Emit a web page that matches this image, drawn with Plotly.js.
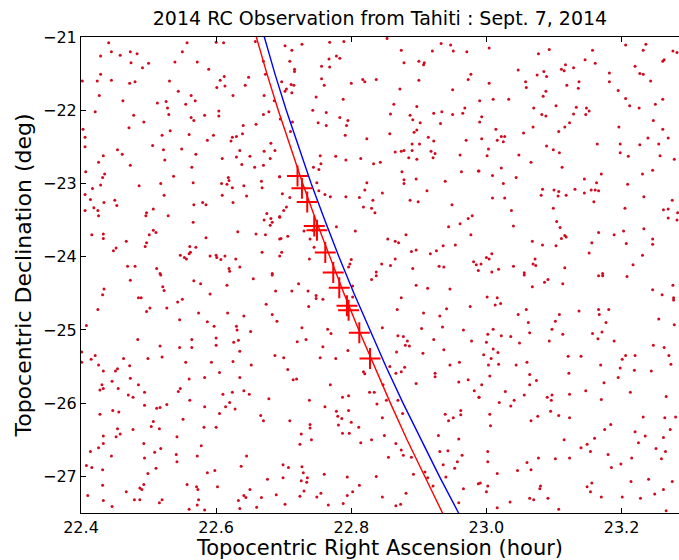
<!DOCTYPE html>
<html>
<head>
<meta charset="utf-8">
<script src="https://cdn.plot.ly/plotly-3.0.1.min.js"></script>
<style>html,body{margin:0;padding:0;background:#fff;}#chart{width:679px;height:560px;}</style>
</head>
<body>
<div id="chart"></div>
<script>
// Background stars [RA (hour), Dec (deg)], read region by region
const starsNW = [[22.441,-21.08],[22.557,-21.08],[22.600,-21.07],[22.611,-21.08],[22.658,-21.06],[22.445,-21.20],[22.473,-21.20],[22.483,-21.23],[22.458,-21.25],[22.429,-21.26],[22.550,-21.20],[22.474,-21.35],[22.500,-21.36],[22.491,-21.42],[22.539,-21.34],[22.572,-21.34],[22.589,-21.44],[22.429,-21.51],[22.402,-21.60],[22.424,-21.60],[22.445,-21.59],[22.472,-21.63],[22.480,-21.61],[22.531,-21.60],[22.606,-21.59],[22.612,-21.54],[22.601,-21.69],[22.613,-21.67],[22.643,-21.66],[22.648,-21.55],[22.673,-21.51],[22.670,-21.33],[22.427,-21.80],[22.462,-21.87],[22.544,-21.74],[22.563,-21.80],[22.555,-21.92],[22.569,-21.87],[22.513,-21.90],[22.526,-21.88],[22.528,-21.97],[22.530,-22.06],[22.625,-21.80],[22.671,-21.80],[22.686,-21.87],[22.421,-22.02],[22.478,-22.07],[22.493,-22.16],[22.471,-22.24],[22.563,-22.10],[22.567,-22.14],[22.583,-22.07],[22.604,-22.01],[22.604,-22.08],[22.640,-22.21],[22.659,-22.19],[22.670,-22.06],[22.678,-22.02],[22.695,-22.12],[22.403,-22.26],[22.406,-22.37],[22.532,-22.28],[22.520,-22.34],[22.560,-22.33],[22.596,-22.34],[22.587,-22.41],[22.624,-22.37],[22.630,-22.36],[22.639,-22.32],[22.622,-22.42],[22.406,-22.50],[22.454,-22.54],[22.506,-22.48],[22.461,-22.60],[22.433,-22.62],[22.426,-22.71],[22.522,-22.54],[22.549,-22.53],[22.570,-22.60],[22.524,-22.68],[22.609,-22.66],[22.630,-22.64],[22.635,-22.55],[22.650,-22.63],[22.671,-22.56],[22.681,-22.45],[22.687,-22.55],[22.680,-22.66],[22.473,-22.75],[22.564,-22.78],[22.638,-22.74],[22.657,-22.78],[22.670,-22.75],[22.407,-22.84],[22.435,-22.87],[22.432,-22.92],[22.429,-23.02],[22.417,-23.07],[22.406,-23.15],[22.486,-23.03],[22.518,-23.00],[22.537,-22.90],[22.566,-22.99],[22.608,-23.00],[22.618,-22.92],[22.619,-22.96],[22.616,-23.01],[22.624,-23.06],[22.641,-23.03],[22.645,-23.17],[22.667,-22.97],[22.668,-23.06],[22.694,-22.91],[22.523,-23.16],[22.609,-23.16],[22.625,-23.26],[22.414,-23.22],[22.434,-23.26],[22.450,-23.23],[22.453,-23.30],[22.406,-23.37],[22.419,-23.33],[22.425,-23.37],[22.426,-23.44],[22.496,-23.44],[22.497,-23.40],[22.507,-23.35],[22.529,-23.44],[22.567,-23.29],[22.580,-23.26],[22.585,-23.29],[22.566,-23.53],[22.675,-23.41],[22.671,-23.50],[22.681,-23.48],[22.683,-23.53],[22.680,-23.57],[22.694,-23.46],[22.416,-23.70],[22.433,-23.69],[22.433,-23.75],[22.501,-23.70],[22.507,-23.64],[22.511,-23.67],[22.585,-23.74],[22.632,-23.66],[22.659,-23.69],[22.673,-23.70],[22.694,-23.76],[22.467,-23.79],[22.452,-23.88],[22.448,-23.92],[22.497,-23.81],[22.495,-23.86],[22.561,-23.86],[22.570,-23.87],[22.562,-23.94],[22.560,-23.96],[22.668,-23.94],[22.547,-23.98],[22.553,-24.01],[22.556,-24.03],[22.591,-23.99],[22.600,-23.98],[22.601,-24.01],[22.607,-24.04],[22.613,-23.99],[22.629,-24.03],[22.694,-23.99],[22.469,-24.13],[22.480,-24.13],[22.512,-24.16],[22.517,-24.23],[22.619,-24.16],[22.620,-24.20],[22.635,-24.14],[22.683,-24.23]];
const starsN = [[22.702,-21.12],[22.712,-21.18],[22.727,-21.10],[22.768,-21.07],[22.789,-21.06],[22.853,-21.02],[22.709,-21.33],[22.716,-21.44],[22.716,-21.47],[22.756,-21.40],[22.767,-21.30],[22.768,-21.41],[22.778,-21.26],[22.783,-21.29],[22.697,-21.61],[22.711,-21.65],[22.715,-21.66],[22.704,-21.71],[22.702,-21.74],[22.712,-21.76],[22.756,-21.57],[22.760,-21.66],[22.748,-21.82],[22.788,-21.85],[22.800,-21.63],[22.817,-21.58],[22.820,-21.61],[22.837,-21.58],[22.874,-21.18],[22.878,-21.35],[22.900,-21.33],[22.908,-21.35],[22.907,-21.38],[22.920,-21.19],[22.933,-21.09],[22.947,-21.11],[22.951,-21.19],[22.971,-21.20],[22.977,-21.51],[22.973,-21.58],[22.900,-21.59],[22.872,-21.71],[22.950,-21.72],[22.743,-22.00],[22.763,-22.03],[22.751,-22.17],[22.763,-22.21],[22.783,-22.10],[22.795,-22.14],[22.793,-22.21],[22.791,-22.34],[22.823,-22.39],[22.858,-22.05],[22.863,-21.92],[22.897,-21.95],[22.887,-22.07],[22.891,-22.13],[22.902,-22.17],[22.922,-22.04],[22.934,-22.02],[22.950,-22.06],[22.965,-22.04],[22.968,-21.97],[22.897,-22.27],[22.893,-22.30],[22.857,-22.32],[22.713,-22.16],[22.710,-22.29],[22.932,-22.18],[22.914,-22.37],[22.922,-22.42],[22.901,-22.46],[22.890,-22.46],[22.874,-22.56],[22.878,-22.55],[22.865,-22.57],[22.890,-22.55],[22.897,-22.67],[22.885,-22.65],[22.918,-22.56],[22.924,-22.59],[22.921,-22.65],[22.961,-22.61],[22.970,-22.41],[22.754,-22.62],[22.755,-22.73],[22.744,-22.78],[22.752,-22.81],[22.777,-22.63],[22.792,-22.68],[22.814,-22.66],[22.833,-22.73],[22.843,-22.71],[22.694,-22.91],[22.749,-22.99],[22.752,-23.10],[22.761,-23.15],[22.769,-23.18],[22.792,-23.18],[22.823,-22.99],[22.820,-23.09],[22.846,-23.13],[22.812,-23.19],[22.832,-23.23],[22.818,-23.32],[22.830,-23.34],[22.835,-23.40],[22.875,-22.84],[22.878,-22.95],[22.878,-23.00],[22.896,-22.94],[22.912,-23.10],[22.887,-23.23],[22.899,-23.25],[22.939,-22.97],[22.949,-23.29],[22.988,-22.83],[22.963,-22.84],[22.698,-23.14],[22.709,-23.19],[22.704,-23.32],[22.700,-23.37],[22.694,-23.45],[22.730,-23.65],[22.743,-23.64],[22.739,-23.76],[22.706,-23.72],[22.696,-23.75],[22.778,-23.59],[22.806,-23.65],[22.854,-23.76],[22.865,-23.79],[22.870,-23.81],[22.881,-23.70],[22.889,-23.93],[22.896,-23.91],[22.917,-23.96],[22.926,-23.92],[22.936,-23.85],[22.954,-23.84],[22.944,-23.59],[22.961,-23.55],[22.973,-23.48],[22.979,-23.44],[22.977,-23.70],[22.985,-24.11],[22.697,-23.94],[22.745,-23.87],[22.738,-24.03],[22.800,-24.04],[22.798,-24.10],[22.796,-24.14],[22.845,-24.10],[22.865,-24.03],[22.858,-24.12],[22.891,-24.16],[22.930,-24.13],[22.937,-24.14],[22.981,-24.07],[22.988,-24.19],[22.837,-24.21]];
const starsNE = [[23.004,-21.15],[23.077,-21.23],[23.093,-21.17],[23.157,-21.18],[23.146,-21.31],[23.161,-21.36],[23.182,-21.49],[23.182,-21.61],[23.206,-21.11],[23.232,-21.18],[23.236,-21.10],[23.220,-21.40],[23.227,-21.50],[23.232,-21.51],[23.243,-21.60],[23.276,-21.19],[23.282,-21.21],[23.263,-21.31],[23.261,-21.33],[23.047,-21.45],[23.058,-21.61],[23.059,-21.69],[23.075,-21.52],[23.085,-21.47],[23.089,-21.54],[23.117,-21.38],[23.111,-21.44],[23.115,-21.46],[23.129,-21.42],[23.119,-21.66],[23.137,-21.61],[23.136,-21.70],[23.088,-21.74],[23.084,-21.81],[23.004,-21.63],[22.990,-21.87],[23.010,-21.85],[23.033,-21.85],[23.195,-21.73],[23.206,-21.84],[23.212,-21.94],[23.226,-21.97],[23.250,-21.92],[23.261,-21.85],[23.070,-21.97],[23.082,-22.06],[23.088,-22.08],[23.103,-21.94],[23.133,-21.96],[23.129,-22.05],[23.148,-21.97],[23.152,-22.01],[23.147,-22.06],[23.123,-22.17],[23.116,-22.23],[23.107,-22.29],[23.069,-22.23],[23.055,-22.31],[22.993,-22.09],[22.990,-22.16],[23.014,-22.26],[23.016,-22.41],[23.022,-22.36],[23.027,-22.36],[23.025,-22.43],[22.993,-22.39],[23.003,-22.53],[23.001,-22.62],[23.196,-22.23],[23.247,-22.14],[23.261,-22.26],[23.239,-22.38],[23.269,-22.38],[23.089,-22.49],[23.099,-22.54],[23.108,-22.58],[23.164,-22.46],[23.198,-22.46],[23.198,-22.58],[23.210,-22.63],[23.227,-22.47],[23.255,-22.46],[23.257,-22.62],[23.278,-22.67],[23.048,-22.61],[23.066,-22.71],[23.112,-22.78],[22.989,-22.83],[23.009,-22.89],[23.022,-22.79],[23.044,-22.92],[23.025,-23.00],[23.145,-22.94],[23.170,-22.87],[23.163,-22.99],[23.209,-23.01],[23.231,-22.87],[23.246,-22.82],[23.083,-23.08],[23.081,-23.16],[23.100,-23.09],[23.107,-23.11],[23.106,-23.17],[23.118,-23.16],[23.131,-23.08],[23.145,-23.13],[23.155,-23.09],[23.161,-23.09],[23.166,-23.10],[23.159,-23.25],[23.233,-23.18],[23.009,-23.20],[23.027,-23.20],[23.037,-23.37],[23.099,-23.34],[23.104,-23.52],[23.109,-23.60],[23.040,-23.58],[23.205,-23.34],[23.275,-23.23],[23.262,-23.36],[23.269,-23.35],[23.283,-23.40],[23.269,-23.47],[23.282,-23.50],[23.068,-23.79],[23.083,-23.84],[23.103,-23.85],[23.111,-23.75],[23.116,-23.71],[23.118,-23.73],[23.156,-23.81],[23.166,-23.67],[23.189,-23.70],[23.203,-23.65],[23.207,-23.82],[23.233,-23.62],[23.246,-23.76],[23.246,-23.83],[22.992,-24.10],[23.000,-24.01],[23.004,-24.03],[23.008,-23.96],[23.008,-24.21],[23.018,-24.17],[23.040,-24.13],[23.056,-24.22],[23.069,-24.10],[23.072,-24.03],[23.073,-24.12],[23.116,-24.15],[23.152,-23.95],[23.217,-24.11],[23.231,-23.98],[23.172,-24.23]];
const starsSW = [[22.473,-24.32],[22.518,-24.25],[22.567,-24.33],[22.577,-24.37],[22.616,-24.39],[22.655,-24.30],[22.683,-24.25],[22.434,-24.44],[22.432,-24.52],[22.521,-24.41],[22.523,-24.46],[22.485,-24.56],[22.489,-24.56],[22.591,-24.51],[22.688,-24.47],[22.425,-24.72],[22.502,-24.70],[22.497,-24.75],[22.527,-24.70],[22.543,-24.62],[22.550,-24.58],[22.574,-24.77],[22.617,-24.77],[22.641,-24.81],[22.674,-24.65],[22.683,-24.79],[22.690,-24.88],[22.408,-24.94],[22.546,-24.86],[22.587,-24.89],[22.597,-24.95],[22.630,-24.95],[22.631,-25.00],[22.651,-25.02],[22.484,-25.13],[22.517,-25.22],[22.546,-25.24],[22.564,-25.13],[22.564,-25.24],[22.600,-25.11],[22.600,-25.21],[22.626,-25.17],[22.633,-25.14],[22.635,-25.29],[22.401,-25.30],[22.401,-25.44],[22.415,-25.40],[22.421,-25.35],[22.426,-25.48],[22.433,-25.56],[22.451,-25.56],[22.454,-25.53],[22.463,-25.39],[22.472,-25.49],[22.499,-25.39],[22.520,-25.37],[22.555,-25.44],[22.593,-25.44],[22.625,-25.43],[22.652,-25.48],[22.687,-25.35],[22.446,-25.70],[22.431,-25.75],[22.428,-25.82],[22.433,-25.80],[22.455,-25.80],[22.473,-25.66],[22.485,-25.75],[22.494,-25.85],[22.470,-25.89],[22.477,-25.92],[22.544,-25.84],[22.547,-25.80],[22.560,-25.67],[22.561,-25.96],[22.583,-25.65],[22.605,-25.58],[22.635,-25.65],[22.610,-25.88],[22.624,-25.85],[22.641,-25.83],[22.649,-25.88],[22.678,-25.94],[22.494,-26.03],[22.512,-26.07],[22.517,-26.06],[22.527,-26.02],[22.583,-26.05],[22.614,-26.05],[22.620,-25.99],[22.628,-26.08],[22.605,-26.14],[22.428,-26.15],[22.447,-26.10],[22.456,-26.12],[22.551,-26.22],[22.507,-26.25],[22.504,-26.32],[22.516,-26.35],[22.477,-26.36],[22.454,-26.35],[22.458,-26.42],[22.452,-26.46],[22.433,-26.45],[22.433,-26.55],[22.666,-26.17],[22.670,-26.24],[22.582,-26.33],[22.600,-26.33],[22.493,-26.55],[22.518,-26.62],[22.509,-26.67],[22.542,-26.46],[22.578,-26.58],[22.572,-26.72],[22.541,-26.70],[22.542,-26.80],[22.494,-26.75],[22.445,-26.72],[22.426,-26.61],[22.414,-26.66],[22.408,-26.85],[22.416,-26.88],[22.432,-26.91],[22.511,-26.89],[22.499,-26.96],[22.587,-26.95],[22.598,-26.92],[22.637,-26.86],[22.645,-26.72],[22.676,-27.04],[22.432,-27.12],[22.493,-27.11],[22.487,-27.16],[22.490,-27.18],[22.467,-27.21],[22.479,-27.32],[22.487,-27.32],[22.516,-27.36],[22.520,-27.32],[22.557,-27.11],[22.571,-27.14],[22.573,-27.18],[22.602,-27.14],[22.574,-27.32],[22.572,-27.39],[22.560,-27.45],[22.583,-27.46],[22.410,-27.26],[22.433,-27.33],[22.446,-27.41],[22.633,-27.33],[22.641,-27.26],[22.644,-27.29],[22.650,-27.18],[22.667,-27.29],[22.689,-27.25],[22.660,-27.42],[22.635,-27.44]];
const starsS = [[22.830,-24.31],[22.837,-24.26],[22.722,-24.37],[22.712,-24.47],[22.736,-24.47],[22.748,-24.53],[22.748,-24.57],[22.758,-24.58],[22.737,-24.68],[22.802,-24.40],[22.802,-24.55],[22.896,-24.39],[22.913,-24.43],[22.946,-24.44],[22.874,-24.56],[22.868,-24.72],[22.907,-24.77],[22.931,-24.81],[22.941,-24.71],[22.976,-24.68],[22.846,-24.97],[22.727,-24.97],[22.765,-24.99],[22.770,-25.05],[22.720,-25.16],[22.733,-25.13],[22.758,-25.23],[22.700,-25.38],[22.754,-25.38],[22.777,-25.39],[22.795,-25.28],[22.818,-25.57],[22.820,-25.60],[22.869,-25.08],[22.877,-25.09],[22.883,-25.15],[22.880,-25.21],[22.886,-25.22],[22.867,-25.30],[22.922,-25.13],[22.937,-25.27],[22.906,-25.32],[22.978,-25.15],[22.966,-25.00],[22.935,-24.96],[22.904,-24.98],[22.706,-25.54],[22.714,-25.68],[22.719,-25.67],[22.769,-25.75],[22.738,-25.96],[22.761,-26.05],[22.778,-26.11],[22.780,-26.18],[22.787,-25.92],[22.796,-25.90],[22.796,-26.10],[22.800,-26.26],[22.811,-26.33],[22.827,-25.85],[22.834,-25.85],[22.838,-26.01],[22.852,-25.96],[22.847,-25.75],[22.846,-26.20],[22.857,-25.50],[22.866,-25.59],[22.874,-25.57],[22.879,-25.51],[22.896,-25.73],[22.924,-25.59],[22.924,-25.64],[22.946,-25.48],[22.960,-25.44],[22.959,-25.71],[22.973,-25.68],[22.982,-25.83],[22.989,-25.92],[22.869,-25.96],[22.876,-26.14],[22.709,-26.24],[22.739,-26.29],[22.739,-26.34],[22.726,-26.42],[22.741,-26.50],[22.724,-26.56],[22.786,-26.21],[22.781,-26.30],[22.787,-26.41],[22.797,-26.41],[22.814,-26.54],[22.849,-26.44],[22.866,-26.55],[22.874,-26.64],[22.877,-26.71],[22.855,-26.74],[22.830,-26.50],[22.889,-26.74],[22.939,-26.15],[22.944,-26.24],[22.951,-26.20],[22.962,-26.10],[22.962,-26.16],[22.929,-26.44],[22.959,-26.49],[22.931,-26.66],[22.943,-26.65],[22.957,-26.80],[22.964,-26.71],[22.936,-26.84],[22.953,-26.89],[22.699,-26.84],[22.707,-26.88],[22.727,-26.87],[22.729,-26.95],[22.735,-27.02],[22.734,-27.08],[22.726,-27.06],[22.699,-27.02],[22.730,-27.20],[22.724,-27.27],[22.702,-27.38],[22.760,-26.97],[22.755,-27.23],[22.749,-27.28],[22.766,-27.39],[22.788,-27.37],[22.794,-27.01],[22.802,-27.21],[22.794,-27.26],[22.812,-27.12],[22.837,-27.00],[22.846,-27.28],[22.873,-27.38],[22.866,-27.40],[22.881,-27.23],[22.892,-26.97],[22.909,-26.94],[22.913,-27.02],[22.921,-27.13],[22.940,-27.01],[22.959,-27.36],[22.966,-27.17],[22.988,-27.10]];
const starsSE = [[23.056,-24.25],[23.166,-24.26],[23.172,-24.26],[23.208,-24.27],[23.091,-24.31],[23.086,-24.35],[23.113,-24.37],[23.068,-24.41],[23.001,-24.55],[23.016,-24.56],[23.013,-24.66],[23.021,-24.64],[23.246,-24.45],[23.260,-24.52],[23.276,-24.39],[23.277,-24.56],[23.277,-24.59],[23.047,-24.79],[23.059,-24.72],[23.062,-24.90],[23.108,-24.79],[23.102,-24.88],[23.137,-24.74],[23.166,-24.72],[23.181,-24.72],[23.167,-24.79],[23.177,-24.90],[23.255,-24.85],[23.278,-24.93],[23.002,-25.06],[23.010,-24.99],[23.022,-25.08],[23.036,-25.09],[23.064,-25.04],[23.049,-25.18],[23.093,-25.15],[23.097,-24.99],[23.113,-25.06],[23.157,-25.05],[23.171,-25.03],[23.165,-25.12],[23.189,-25.15],[23.000,-25.17],[22.996,-25.34],[23.007,-25.39],[23.017,-25.31],[23.010,-25.26],[23.003,-25.48],[23.018,-25.47],[23.044,-25.48],[23.060,-25.44],[23.121,-25.36],[23.140,-25.36],[23.206,-25.35],[23.220,-25.35],[23.201,-25.40],[23.198,-25.52],[23.219,-25.55],[23.169,-25.48],[23.244,-25.56],[23.247,-25.21],[23.263,-25.24],[23.270,-25.35],[23.273,-25.47],[23.005,-25.63],[22.993,-25.75],[22.989,-25.92],[23.028,-25.84],[23.064,-25.61],[23.074,-25.69],[23.064,-25.75],[23.056,-25.89],[23.019,-25.99],[23.041,-25.96],[23.036,-26.04],[23.090,-25.92],[23.097,-25.89],[23.096,-25.96],[23.122,-25.59],[23.123,-25.88],[23.147,-25.83],[23.174,-25.72],[23.195,-25.65],[23.213,-25.85],[23.266,-25.91],[23.170,-25.95],[23.005,-26.15],[23.006,-26.31],[23.066,-26.24],[23.076,-26.18],[23.095,-26.11],[23.107,-26.17],[23.123,-26.20],[23.232,-26.19],[23.264,-26.20],[23.280,-26.19],[23.184,-26.29],[23.175,-26.36],[23.220,-26.39],[23.235,-26.45],[23.272,-26.36],[23.262,-26.47],[23.115,-26.50],[23.160,-26.48],[23.149,-26.56],[23.140,-26.61],[23.154,-26.66],[23.180,-26.70],[23.225,-26.54],[23.251,-26.62],[23.265,-26.66],[23.259,-26.76],[23.215,-26.75],[23.199,-26.83],[23.185,-26.88],[23.002,-26.66],[23.002,-26.80],[23.016,-26.96],[22.991,-27.09],[23.002,-27.13],[23.000,-27.21],[23.060,-26.81],[23.077,-26.75],[23.102,-26.76],[23.123,-26.75],[23.046,-26.92],[23.066,-26.91],[23.080,-27.13],[23.079,-27.17],[23.091,-27.30],[23.064,-27.30],[23.070,-27.32],[23.035,-27.35],[23.016,-27.43],[23.107,-27.45],[23.149,-27.14],[23.156,-27.09],[23.154,-27.21],[23.170,-27.28],[23.201,-27.28],[23.214,-27.07],[23.228,-27.30],[23.240,-27.04],[23.249,-27.24],[23.262,-27.18],[23.275,-27.07],[23.266,-27.47]];

// Observed positions (red crosses)
const obsRA  = [22.7204, 22.7270, 22.7348, 22.7452, 22.7492, 22.7615, 22.7733, 22.7822, 22.7936, 22.7960, 22.8119, 22.8277];
const obsDec = [-22.899, -23.067, -23.254, -23.582, -23.639, -23.944, -24.217, -24.425, -24.671, -24.730, -25.040, -25.389];

// Predicted paths (Dec samples shared by both)
const pathDec = [-20.8, -21.0, -21.5, -22.0, -22.5, -23.0, -23.5, -24.0, -24.5, -25.0, -25.5, -26.0, -26.5, -27.0, -27.5, -27.7];
const redPathRA  = [22.6532, 22.6593, 22.6751, 22.6919, 22.7096, 22.7281, 22.7475, 22.7678, 22.7890, 22.8111, 22.8340, 22.8579, 22.8825, 22.9081, 22.9346, 22.9455];
const bluePathRA = [22.6651, 22.6711, 22.6869, 22.7038, 22.7217, 22.7406, 22.7607, 22.7817, 22.8039, 22.8270, 22.8513, 22.8766, 22.9029, 22.9304, 22.9588, 22.9705];

const xTicks = [22.4, 22.6, 22.8, 23.0, 23.2];
const yTicks = [-21, -22, -23, -24, -25, -26, -27];

const stars = [].concat(starsNW, starsN, starsNE, starsSW, starsS, starsSE);

const traces = [
  {type: 'scatter', mode: 'markers', x: stars.map(p => p[0]), y: stars.map(p => p[1]),
   marker: {size: 3, color: 'rgb(210,10,30)'}, hoverinfo: 'skip'},
  {type: 'scatter', mode: 'lines', x: redPathRA, y: pathDec,
   line: {color: '#ff0000', width: 1.4}},
  {type: 'scatter', mode: 'lines', x: bluePathRA, y: pathDec,
   line: {color: '#0000ff', width: 1.4}},
  {type: 'scatter', mode: 'markers', x: obsRA, y: obsDec,
   marker: {symbol: 'cross-thin', size: 15, color: '#ff0000', line: {color: '#ff0000', width: 2}}}
];

const FONT = 'DejaVu Sans, sans-serif';
const axisFont = {family: FONT, size: 16, color: '#000'};
const layout = {
  width: 679, height: 560,
  margin: {l: 81, r: 0, t: 37, b: 47},
  paper_bgcolor: '#fff', plot_bgcolor: '#fff',
  showlegend: false,
  font: {family: FONT, color: '#000'},
  title: {text: '2014 RC Observation from Tahiti : Sept. 7, 2014',
          font: {family: FONT, size: 19, color: '#000'},
          x: 0.5, xref: 'paper', xanchor: 'center', y: 0.967, yref: 'container', yanchor: 'middle'},
  xaxis: {
    range: [22.4, 23.285], tickvals: xTicks, ticktext: xTicks.map(v => v.toFixed(1)),
    ticks: 'inside', ticklen: 5, tickwidth: 1, tickcolor: '#000',
    showline: true, linecolor: '#000', linewidth: 1, mirror: 'ticks',
    showgrid: false, zeroline: false, tickfont: axisFont,
    title: {text: 'Topocentric Right Ascension (hour)', font: {family: FONT, size: 21, color: '#000'}, standoff: 3},
    automargin: false
  },
  yaxis: {
    range: [-27.5, -21], tickvals: yTicks, ticktext: yTicks.map(v => '\u2212' + Math.abs(v)),
    ticks: 'inside', ticklen: 5, tickwidth: 1, tickcolor: '#000',
    showline: true, linecolor: '#000', linewidth: 1, mirror: false,
    showgrid: false, zeroline: false, tickfont: axisFont,
    title: {text: 'Topocentric Declination (deg)', font: {family: FONT, size: 22, color: '#000'}, standoff: 5},
    automargin: false
  }
};

Plotly.newPlot('chart', traces, layout, {displayModeBar: false, staticPlot: true});
</script>
</body>
</html>
